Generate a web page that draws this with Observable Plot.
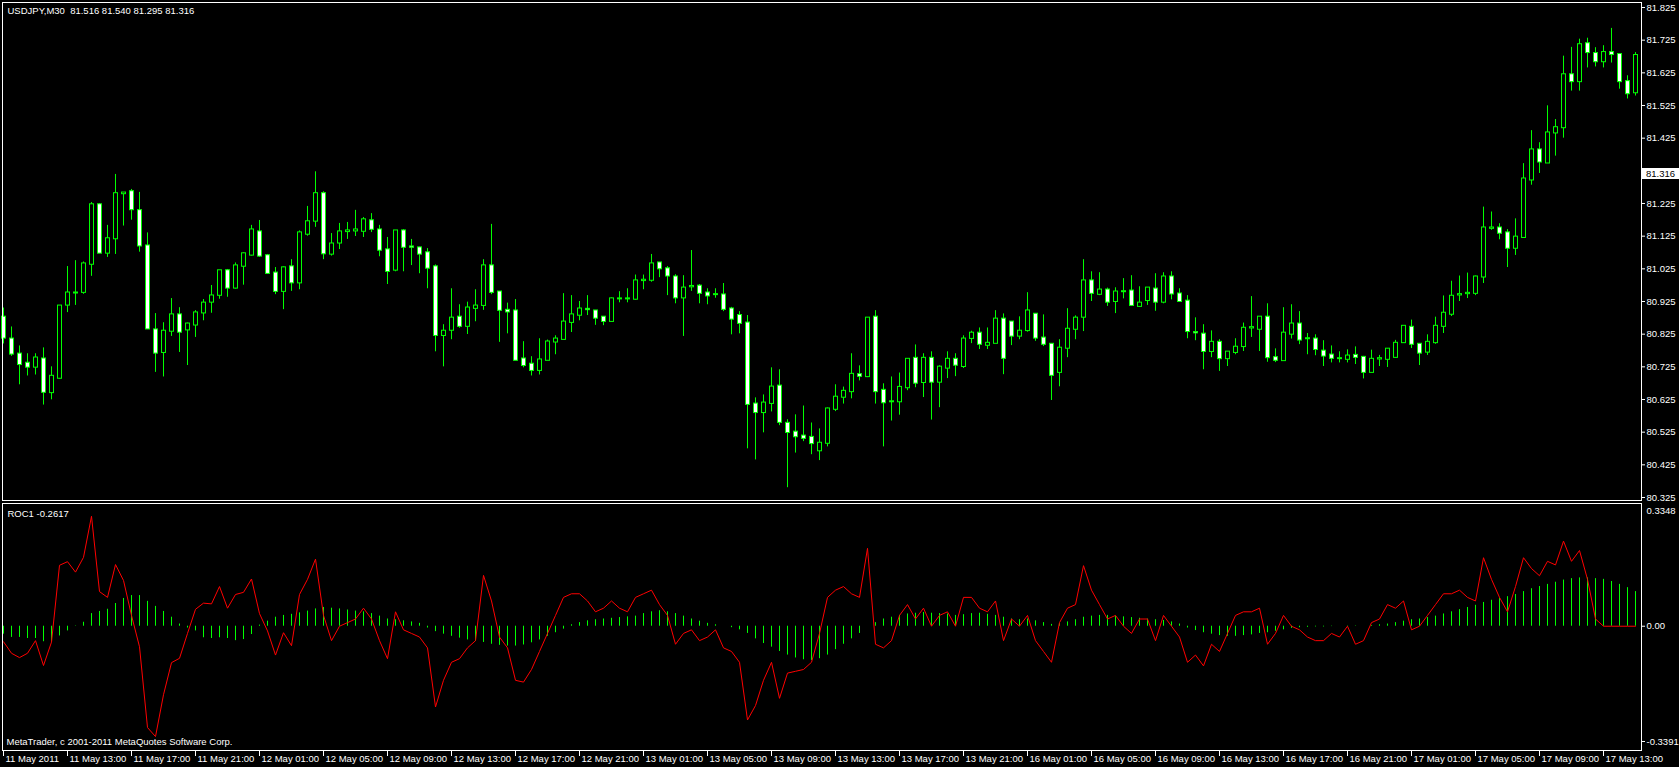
<!DOCTYPE html>
<html><head><meta charset="utf-8">
<script src="https://cdn.jsdelivr.net/npm/d3@7"></script>
<script src="https://cdn.jsdelivr.net/npm/@observablehq/plot@0.6"></script>
<style>
html,body{margin:0;padding:0;background:#000;width:1679px;height:767px;overflow:hidden}
#wrap{position:relative;width:1679px;height:767px}
#main,#ind{position:absolute;left:0}
#main{top:0}
#ind{top:501px}
#marker{position:absolute;left:1642px;width:37px;height:11px;background:#fff;color:#000;font:9.5px "Liberation Sans",Arial,sans-serif;line-height:11px;padding-left:4px;box-sizing:border-box}
</style></head><body><div id="wrap"><div id="main"></div><div id="ind"></div><div id="marker"></div></div>
<script>
const chartTitle = "USDJPY,M30\u00a0 81.516 81.540 81.295 81.316";
const lastPrice = 81.316;
const indicatorLabel = "ROC1 -0.2617";
const copyright = "MetaTrader, c 2001-2011 MetaQuotes Software Corp.";

const open = [80.877,80.810,80.764,80.736,80.724,80.749,80.646,80.690,80.914,80.951,
80.953,81.039,81.221,81.073,81.117,81.255,81.261,81.203,81.095,80.838,
80.769,80.834,80.884,80.838,80.853,80.890,80.923,80.944,81.019,80.966,
81.033,81.067,81.138,81.065,81.012,80.956,81.031,80.982,81.131,81.171,
81.255,81.070,81.104,81.139,81.141,81.140,81.172,81.144,81.083,81.021,
81.141,81.092,81.089,81.074,81.031,80.821,80.837,80.877,80.849,80.904,
80.913,81.034,80.954,80.898,80.896,80.749,80.733,80.714,80.745,80.801,
80.809,80.861,80.883,80.901,80.896,80.877,80.864,80.933,80.933,80.932,
80.989,80.990,81.043,81.025,81.000,80.936,80.970,80.972,80.951,80.946,
80.945,80.902,80.882,80.859,80.611,80.585,80.613,80.666,80.552,80.525,
80.513,80.509,80.468,80.491,80.595,80.632,80.649,80.701,80.695,80.877,
80.653,80.618,80.618,80.661,80.751,80.677,80.751,80.678,80.721,80.748,
80.726,80.812,80.828,80.791,80.797,80.871,80.862,80.819,80.836,80.886,
80.813,80.794,80.708,80.782,80.840,80.877,80.988,80.947,80.960,80.925,
80.955,80.957,80.910,80.928,80.963,80.923,81.000,80.948,80.926,80.830,
80.825,80.772,80.800,80.750,80.769,80.787,80.844,80.840,80.877,80.753,
80.744,80.825,80.856,80.811,80.810,80.773,80.761,80.750,80.748,80.760,
80.754,80.708,80.749,80.748,80.754,80.799,80.846,80.794,80.770,80.799,
80.849,80.886,80.945,80.949,80.950,81.000,81.149,81.150,81.135,81.088,
81.121,81.297,81.389,81.349,81.441,81.457,81.619,81.598,81.714,81.684,
81.659,81.687,81.681,81.598,81.564];
const high = [80.905,80.847,80.789,80.765,80.765,80.783,80.725,80.911,81.032,81.050,
81.046,81.228,81.225,81.158,81.314,81.257,81.268,81.259,81.135,80.888,
80.860,80.934,80.906,80.859,80.897,80.931,80.974,81.019,81.023,81.043,
81.074,81.158,81.173,81.069,81.029,81.031,81.053,81.141,81.216,81.322,
81.261,81.133,81.164,81.167,81.204,81.182,81.194,81.158,81.121,81.141,
81.145,81.115,81.091,81.087,81.037,80.854,80.964,80.915,80.923,80.961,
81.053,81.161,80.954,80.920,80.931,80.802,80.756,80.811,80.807,80.820,
80.949,80.943,80.925,80.943,80.896,80.877,80.936,80.955,80.964,81.006,
81.006,81.069,81.043,81.032,81.007,81.004,81.081,80.977,80.964,80.964,
80.980,80.907,80.894,80.882,80.630,80.639,80.722,80.716,80.563,80.578,
80.605,80.553,80.535,80.599,80.670,80.663,80.765,80.728,80.874,80.897,
80.673,80.694,80.706,80.748,80.792,80.765,80.771,80.728,80.771,80.765,
80.820,80.834,80.844,80.844,80.897,80.887,80.862,80.878,80.952,80.886,
80.884,80.794,80.808,80.903,80.881,81.053,81.016,81.013,80.966,80.967,
80.995,81.004,80.970,80.966,81.010,81.013,81.016,80.964,80.943,80.875,
80.854,80.835,80.808,80.770,80.811,80.859,80.940,80.877,80.918,80.780,
80.906,80.915,80.894,80.827,80.823,80.805,80.789,80.771,80.777,80.786,
80.757,80.776,80.760,80.781,80.806,80.849,80.868,80.794,80.823,80.877,
80.942,80.987,81.003,81.012,81.003,81.214,81.199,81.163,81.145,81.178,
81.347,81.448,81.411,81.524,81.482,81.676,81.703,81.728,81.731,81.702,
81.708,81.761,81.684,81.616,81.687];
const low = [80.795,80.757,80.670,80.697,80.700,80.608,80.624,80.688,80.891,80.913,
80.947,81.002,81.073,81.060,81.069,81.156,81.174,81.076,80.841,80.708,
80.694,80.818,80.769,80.729,80.815,80.866,80.889,80.932,80.938,80.963,
80.975,81.064,81.060,81.008,80.946,80.900,80.956,80.961,81.125,81.152,
81.053,81.064,81.084,81.115,81.124,81.121,81.136,81.062,80.977,81.016,
81.016,81.035,81.010,80.964,80.771,80.725,80.808,80.843,80.824,80.863,
80.898,80.946,80.800,80.826,80.745,80.722,80.697,80.700,80.745,80.762,
80.809,80.830,80.866,80.882,80.852,80.851,80.864,80.921,80.921,80.929,
80.961,80.984,80.998,80.943,80.918,80.818,80.956,80.918,80.915,80.935,
80.894,80.823,80.826,80.474,80.440,80.523,80.587,80.545,80.355,80.461,
80.496,80.456,80.438,80.480,80.588,80.611,80.627,80.682,80.692,80.611,
80.480,80.559,80.577,80.652,80.661,80.631,80.562,80.600,80.689,80.695,
80.720,80.796,80.778,80.778,80.797,80.701,80.790,80.808,80.831,80.803,
80.787,80.622,80.664,80.753,80.808,80.833,80.925,80.943,80.910,80.888,
80.933,80.910,80.907,80.913,80.895,80.918,80.930,80.923,80.811,80.805,
80.716,80.753,80.711,80.726,80.762,80.772,80.815,80.772,80.739,80.738,
80.744,80.810,80.793,80.762,80.759,80.726,80.737,80.737,80.737,80.732,
80.688,80.708,80.726,80.723,80.751,80.797,80.781,80.729,80.760,80.794,
80.827,80.879,80.925,80.934,80.943,80.980,81.143,81.114,81.029,81.066,
81.118,81.281,81.317,81.349,81.370,81.425,81.569,81.569,81.640,81.643,
81.640,81.655,81.575,81.545,81.554];
const close = [80.813,80.764,80.732,80.724,80.752,80.647,80.696,80.911,80.951,80.951,
81.040,81.221,81.073,81.117,81.255,81.257,81.206,81.095,80.841,80.767,
80.834,80.884,80.831,80.856,80.890,80.920,80.942,81.019,80.966,81.034,
81.071,81.144,81.064,81.011,80.956,81.028,80.982,81.135,81.169,81.255,
81.071,81.101,81.138,81.141,81.144,81.175,81.146,81.082,81.017,81.141,
81.091,81.091,81.070,81.027,80.821,80.834,80.874,80.849,80.905,80.911,
81.034,80.953,80.898,80.893,80.745,80.729,80.714,80.746,80.801,80.810,
80.862,80.884,80.902,80.900,80.874,80.864,80.933,80.933,80.933,80.988,
80.990,81.040,81.025,81.003,80.936,80.966,80.971,80.950,80.942,80.946,
80.901,80.871,80.858,80.610,80.585,80.614,80.663,80.555,80.524,80.511,
80.506,80.490,80.491,80.596,80.632,80.650,80.702,80.696,80.874,80.649,
80.615,80.618,80.662,80.748,80.675,80.751,80.678,80.724,80.748,80.730,
80.810,80.828,80.794,80.797,80.871,80.751,80.819,80.834,80.896,80.813,
80.794,80.699,80.782,80.840,80.874,80.988,80.950,80.960,80.923,80.954,
80.955,80.913,80.920,80.966,80.923,81.000,80.948,80.925,80.833,80.829,
80.772,80.800,80.750,80.770,80.785,80.843,80.845,80.877,80.753,80.745,
80.828,80.856,80.807,80.811,80.778,80.758,80.751,80.750,80.758,80.754,
80.708,80.748,80.750,80.779,80.797,80.849,80.794,80.767,80.800,80.849,
80.889,80.941,80.946,80.950,81.000,81.150,81.150,81.134,81.088,81.122,
81.300,81.389,81.352,81.441,81.457,81.619,81.598,81.711,81.687,81.659,
81.687,81.681,81.598,81.561,81.678];

const rocLine = [-0.043,-0.075,-0.087,-0.075,-0.040,-0.109,-0.044,0.169,0.179,0.150,
0.191,0.305,0.096,0.080,0.171,0.127,0.030,-0.057,-0.281,-0.306,
-0.190,-0.101,-0.089,-0.020,0.047,0.064,0.062,0.110,0.050,0.088,
0.094,0.131,0.035,-0.013,-0.080,-0.018,-0.054,0.088,0.130,0.186,
0.030,-0.040,0.000,0.010,0.020,0.050,0.020,-0.040,-0.090,0.040,
-0.010,-0.020,-0.030,-0.060,-0.224,-0.150,-0.100,-0.090,-0.060,-0.040,
0.141,0.070,-0.030,-0.060,-0.150,-0.155,-0.120,-0.070,-0.020,0.030,
0.080,0.090,0.090,0.070,0.040,0.050,0.070,0.050,0.040,0.080,
0.090,0.100,0.060,0.030,-0.050,-0.020,-0.010,-0.040,-0.030,-0.010,
-0.060,-0.070,-0.100,-0.260,-0.220,-0.150,-0.100,-0.200,-0.130,-0.125,
-0.120,-0.100,-0.020,0.080,0.100,0.110,0.090,0.080,0.216,-0.050,
-0.060,-0.040,0.030,0.060,0.020,0.050,0.000,0.030,0.040,0.000,
0.080,0.080,0.050,0.040,0.070,-0.040,0.020,0.000,0.030,-0.040,
-0.070,-0.100,0.010,0.050,0.060,0.168,0.100,0.060,0.020,0.030,
0.000,-0.020,0.020,0.020,-0.040,0.030,0.000,-0.030,-0.100,-0.080,
-0.110,-0.050,-0.070,-0.020,0.030,0.040,0.040,0.050,-0.050,-0.020,
0.030,0.000,-0.010,-0.030,-0.040,-0.040,-0.020,-0.030,0.000,-0.050,
-0.040,0.010,0.020,0.060,0.050,0.070,-0.010,0.000,0.030,0.060,
0.090,0.090,0.100,0.080,0.070,0.190,0.130,0.080,0.040,0.110,
0.190,0.160,0.140,0.180,0.170,0.236,0.180,0.210,0.130,0.020,
0,0,0,0,0];
const rocHist = [-0.022,-0.031,-0.031,-0.034,-0.034,-0.043,-0.043,-0.027,-0.013,0.001,
0.011,0.035,0.041,0.047,0.063,0.077,0.085,0.085,0.069,0.055,
0.041,0.025,0.006,-0.005,-0.013,-0.032,-0.034,-0.032,-0.034,-0.040,
-0.037,-0.023,0.003,0.014,0.025,0.030,0.033,0.037,0.042,0.048,
0.052,0.050,0.048,0.045,0.042,0.040,0.035,0.028,0.020,0.018,
0.015,0.012,0.008,-0.005,-0.015,-0.022,-0.028,-0.033,-0.038,-0.042,
-0.045,-0.050,-0.053,-0.055,-0.055,-0.052,-0.046,-0.038,-0.028,-0.018,
-0.008,0.004,0.010,0.015,0.018,0.020,0.022,0.024,0.026,0.028,
0.035,0.040,0.043,0.040,0.035,0.028,0.020,0.014,0.008,0.004,
0.000,-0.004,-0.010,-0.020,-0.035,-0.048,-0.058,-0.070,-0.080,-0.088,
-0.093,-0.095,-0.090,-0.080,-0.065,-0.050,-0.035,-0.020,0.000,0.010,
0.020,0.025,0.030,0.034,0.036,0.038,0.036,0.035,0.034,0.030,
0.032,0.035,0.036,0.033,0.030,0.025,0.020,0.018,0.020,0.015,
0.010,0.005,0.008,0.012,0.018,0.025,0.028,0.030,0.030,0.028,
0.026,0.024,0.022,0.020,0.018,0.016,0.012,0.006,-0.005,-0.012,
-0.018,-0.022,-0.026,-0.028,-0.028,-0.026,-0.024,-0.020,-0.018,-0.014,
-0.010,-0.006,-0.004,-0.003,-0.002,-0.002,-0.001,0.000,0.001,0.001,
0.000,0.002,0.004,0.006,0.010,0.014,0.018,0.020,0.024,0.028,
0.034,0.040,0.046,0.052,0.058,0.066,0.072,0.078,0.082,0.088,
0.096,0.104,0.110,0.116,0.122,0.128,0.132,0.134,0.134,0.132,
0.130,0.124,0.116,0.107,0.096];

const priceTicks = [81.825,81.725,81.625,81.525,81.425,81.225,81.125,81.025,80.925,80.825,80.725,80.625,80.525,80.425,80.325];
const rocMax = 0.3348, rocMin = -0.3391;
const xLabels = ["11 May 2011","11 May 13:00","11 May 17:00","11 May 21:00","12 May 01:00","12 May 05:00","12 May 09:00","12 May 13:00","12 May 17:00","12 May 21:00","13 May 01:00","13 May 05:00","13 May 09:00","13 May 13:00","13 May 17:00","13 May 21:00","16 May 01:00","16 May 05:00","16 May 09:00","16 May 13:00","16 May 17:00","16 May 21:00","17 May 01:00","17 May 05:00","17 May 09:00","17 May 13:00"];
const barsPerLabel = 8; // M30 bars in 4 hours
const xTickBars = xLabels.map((_, k) => k * barsPerLabel);

const bars = open.map((o, i) => ({i, o, h: high[i], l: low[i], c: close[i]}));
const histData = rocHist.map((v, i) => ({i, v}));
const lineData = rocLine.map((v, i) => ({i, v}));

const style = {background:"#000", color:"#fff", fontFamily:"'Liberation Sans', Arial, sans-serif", fontSize:"9.5px"};
const xDomain = [-0.125, 204.75];
const LIME = "#00ff00";

const main = Plot.plot({
  width:1679, height:502, marginLeft:2, marginRight:38, marginTop:2, marginBottom:2,
  style,
  x:{domain:xDomain, axis:null, label:null},
  y:{domain:[80.3158, 81.8403], label:null},
  marks:[
    Plot.ruleX(bars, {x:"i", y1:"l", y2:"h", stroke:LIME}),
    Plot.rect(bars, {x1:d=>d.i-0.5, x2:d=>d.i+0.5, y1:d=>Math.min(d.o,d.c), y2:d=>Math.max(d.o,d.c),
      insetLeft:2.5, insetRight:1.5, insetTop:-0.5, insetBottom:-0.5,
      fill:d=>d.c<d.o ? "#fff" : "#000", stroke:LIME}),
    Plot.frame({stroke:"#fff"}),
    Plot.axisY(priceTicks, {anchor:"right", label:null, tickSize:3, tickPadding:2, tickFormat:d=>d.toFixed(3)}),
    Plot.text([chartTitle], {frameAnchor:"top-left", dx:5, dy:5, text:d=>d, lineAnchor:"top", textAnchor:"start", fill:"#fff"})
  ]
});
document.getElementById("main").append(main);

const ind = Plot.plot({
  width:1679, height:266, marginLeft:2, marginRight:38, marginTop:2, marginBottom:17,
  style,
  x:{domain:xDomain, label:null},
  y:{domain:[-0.34465, 0.34035], label:null},
  marks:[
    Plot.ruleX(histData, {x:"i", y1:0, y2:"v", stroke:LIME}),
    Plot.line(lineData, {x:"i", y:"v", stroke:"#ff0000", strokeWidth:1}),
    Plot.frame({stroke:"#fff"}),
    Plot.axisY([rocMax], {anchor:"right", label:null, tickSize:0, tickPadding:5, dy:5, tickFormat:d=>d.toFixed(4)}),
    Plot.axisY([0], {anchor:"right", label:null, tickSize:3, tickPadding:2, tickFormat:d=>d.toFixed(2)}),
    Plot.axisY([rocMin], {anchor:"right", label:null, tickSize:3, tickPadding:2, dy:-7, tickFormat:d=>d.toFixed(4)}),
    Plot.axisX(xTickBars, {anchor:"bottom", label:null, tickSize:6, tickFormat:()=>""}),
    Plot.axisX(xTickBars, {anchor:"bottom", label:null, tickSize:0, tickPadding:5, textAnchor:"start", dx:2, tickFormat:d=>xLabels[xTickBars.indexOf(d)]}),
    Plot.text([indicatorLabel], {frameAnchor:"top-left", dx:5, dy:7, text:d=>d, lineAnchor:"top", textAnchor:"start", fill:"#fff"}),
    Plot.text([copyright], {frameAnchor:"top-left", dx:4, dy:235, text:d=>d, lineAnchor:"top", textAnchor:"start", fill:"#fff"})
  ]
});
document.getElementById("ind").append(ind);

const mk = document.getElementById("marker");
mk.textContent = lastPrice.toFixed(3);
mk.style.top = (main.scale("y").apply(lastPrice) - 5.5) + "px";
</script></body></html>
